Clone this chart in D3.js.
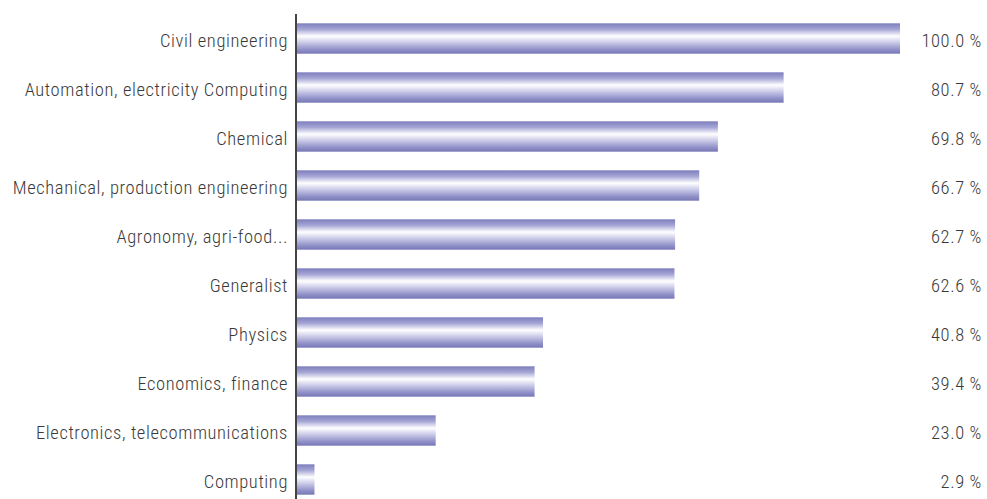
<!DOCTYPE html>
<html>
<head>
<meta charset="utf-8">
<script src="https://cdn.jsdelivr.net/npm/d3@7/dist/d3.min.js"></script>
<style>
  html, body { margin: 0; padding: 0; background: #fff; }
  svg { display: block; }
  text { font-family: "Roboto Condensed", "Liberation Sans Narrow", "Arial Narrow", sans-serif; fill: #3a3a3a; font-weight: 300; }
</style>
</head>
<body>
<svg id="chart" width="987" height="499"></svg>
<script>
const categories = [
  "Civil engineering",
  "Automation, electricity Computing",
  "Chemical",
  "Mechanical, production engineering",
  "Agronomy, agri-food...",
  "Generalist",
  "Physics",
  "Economics, finance",
  "Electronics, telecommunications",
  "Computing"
];
const values = [100.0, 80.7, 69.8, 66.7, 62.7, 62.6, 40.8, 39.4, 23.0, 2.9];

const svg = d3.select("#chart");
const W = 987, H = 499;
const margin = { left: 297, right: 87, top: 14, bottom: 0 };

const x = d3.scaleLinear().domain([0, 100]).range([margin.left, W - margin.right]);
const y = d3.scaleBand().domain(categories).range([margin.top, H + 5]).paddingInner(0.38).paddingOuter(0.19);

// Tube-like vertical shading for the bars
const defs = svg.append("defs");
const grad = defs.append("linearGradient").attr("id", "barShade")
  .attr("x1", 0).attr("y1", 0).attr("x2", 0).attr("y2", 1);
[[0, "#7d7dbd"], [0.2, "#a6a6d6"], [0.42, "#ffffff"], [0.6, "#d2d2ec"], [0.85, "#9393ca"], [1, "#7676b6"]]
  .forEach(([o, c]) => grad.append("stop").attr("offset", o).attr("stop-color", c));

svg.append("g").selectAll("rect").data(values).join("rect")
  .attr("x", x(0))
  .attr("y", (d, i) => y(categories[i]))
  .attr("width", d => x(d) - x(0))
  .attr("height", y.bandwidth())
  .attr("fill", "url(#barShade)");

// Category axis line
svg.append("line")
  .attr("x1", x(0) - 1).attr("x2", x(0) - 1)
  .attr("y1", margin.top).attr("y2", H)
  .attr("stroke", "#444").attr("stroke-width", 2);

svg.append("g").selectAll("text").data(categories).join("text")
  .attr("x", x(0) - 9)
  .attr("y", d => y(d) + y.bandwidth() / 2)
  .attr("dy", "0.48em")
  .attr("text-anchor", "end")
  .attr("font-size", 18.5)
  .attr("letter-spacing", 0.6)
  .text(d => d);

svg.append("g").selectAll("text").data(values).join("text")
  .attr("x", W - 5)
  .attr("y", (d, i) => y(categories[i]) + y.bandwidth() / 2)
  .attr("dy", "0.46em")
  .attr("text-anchor", "end")
  .attr("font-size", 18.5)
  .attr("letter-spacing", 0.6)
  .text(d => d.toFixed(1) + "\u00a0%");
</script>
</body>
</html>
